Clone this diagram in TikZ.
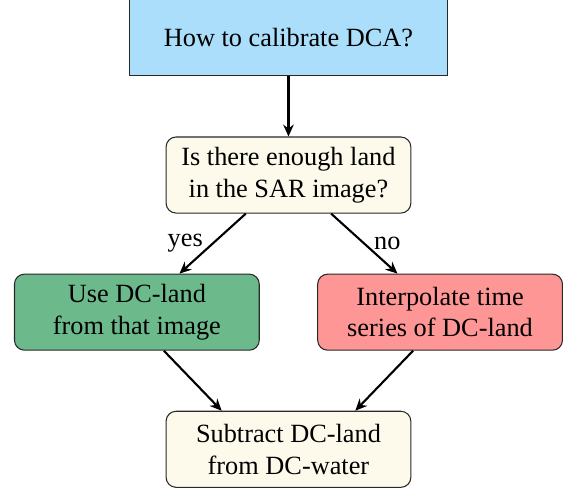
\documentclass[tikz,border=0pt]{standalone}
\usepackage{fontspec}
\setmainfont{Liberation Serif}
\usepackage{xcolor}
\usepackage{tikz}
\usetikzlibrary{arrows.meta,positioning}
\definecolor{linegray}{RGB}{40,40,40}
\definecolor{skyblue}{RGB}{170,222,250}
\definecolor{paleyellow}{RGB}{253,250,236}
\definecolor{softgreen}{RGB}{108,186,140}
\definecolor{softred}{RGB}{255,150,150}

\begin{document}
\begin{tikzpicture}[
  node distance=22.8pt,
  block/.style={rectangle,draw=linegray,align=center,
                minimum width=93pt,minimum height=28.9pt},
  round/.style={block,rounded corners=3.8pt},
  arrow/.style={-{Stealth[length=4.5pt,width=4pt]},draw=black,line width=0.8pt}
]
\useasboundingbox (-109.6pt,14.4pt) rectangle (108.1pt,-171.4pt);
\node[block,fill=skyblue,minimum width=120.5pt] (calib) {How to calibrate DCA?};
\node[round,fill=paleyellow,below=of calib] (enough) {Is there enough land\\in the SAR image?};
\node[round,fill=softgreen,below=of enough,xshift=-57.6pt] (useland) {Use DC-land\\from that image};
\node[round,fill=softred,below=of enough,xshift=57.6pt] (interp) {Interpolate time\\series of DC-land};
\node[round,fill=paleyellow,below=of useland,xshift=57.6pt] (subtract) {Subtract DC-land\\from DC-water};
\draw[arrow] (calib) -- (enough);
\draw[arrow] (enough) -- node[left] {yes} (useland);
\draw[arrow] (enough) -- node[right] {no} (interp);
\draw[arrow] (useland.-55) -- (subtract.150);
\draw[arrow] (interp.-125) -- (subtract.30);
\end{tikzpicture}
\end{document}
